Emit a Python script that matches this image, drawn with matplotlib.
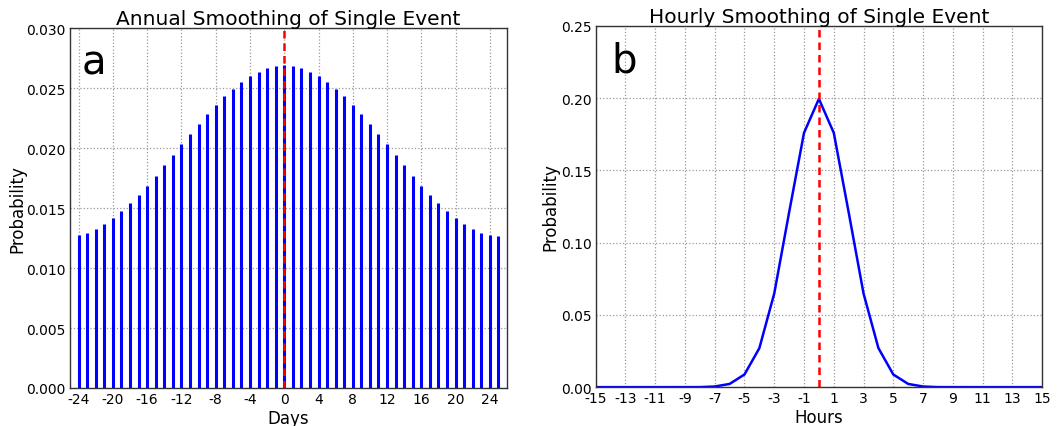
import numpy as np
import matplotlib.pyplot as plt

plt.rcParams['axes.unicode_minus'] = False

# panel a: daily smoothing weights
days = list(range(-24, 26))
day_prob = [0.01272, 0.01292, 0.01325, 0.01364, 0.01414, 0.01475, 0.01539, 0.01611,
            0.01686, 0.01769, 0.01856, 0.01944, 0.02031, 0.02117, 0.02203, 0.02286,
            0.02361, 0.02433, 0.02494, 0.02553, 0.02597, 0.02636, 0.02664, 0.02681,
            0.02690,
            0.02681, 0.02664, 0.02636, 0.02597, 0.02553, 0.02494, 0.02433, 0.02361,
            0.02286, 0.02203, 0.02117, 0.02031, 0.01944, 0.01856, 0.01769, 0.01686,
            0.01611, 0.01539, 0.01475, 0.01414, 0.01364, 0.01325, 0.01292, 0.01272,
            0.01264]

# panel b: hourly smoothing weights
hours = list(range(-15, 16))
hour_prob = [0.0, 0.0, 0.0, 0.0, 0.0, 0.0, 0.00001, 0.00003, 0.00044, 0.00222,
             0.00876, 0.0270, 0.0648, 0.1210, 0.1760, 0.1995, 0.1760, 0.1210,
             0.0648, 0.0270, 0.00876, 0.00222, 0.00044, 0.00003, 0.00001,
             0.0, 0.0, 0.0, 0.0, 0.0, 0.0]

fig = plt.figure(figsize=(10.58, 4.27), dpi=100)
ax1 = fig.add_axes([0.0662, 0.089, 0.413, 0.843])
ax2 = fig.add_axes([0.563, 0.091, 0.422, 0.846])

spine_col = '#333333'
grid_kw = dict(color='#999999', linestyle=':', linewidth=0.9)

# ------------------------------
# Panel a
# ------------------------------
ax1.vlines(days, 0, day_prob, colors='#0000ff', linewidth=2.2)
ax1.axvline(0, color='red', linestyle='--', linewidth=1.8, dashes=(3, 2))
ax1.set_xlim(-25, 26)
ax1.set_ylim(0, 0.03)
ax1.set_xticks(range(-24, 25, 4))
ax1.set_yticks(np.arange(0, 0.0301, 0.005))
ax1.yaxis.set_major_formatter(plt.FormatStrFormatter('%.3f'))
ax1.set_title("Annual Smoothing of Single Event", fontsize=14.5, pad=2)
ax1.set_xlabel("Days", fontsize=12, labelpad=2)
ax1.set_ylabel("Probability", fontsize=12, labelpad=0)
ax1.text(0.027, 0.96, "a", transform=ax1.transAxes, fontsize=29, va='top', ha='left')

# ------------------------------
# Panel b
# ------------------------------
ax2.plot(hours, hour_prob, color='#0000ff', linewidth=1.8)
ax2.axvline(0, color='red', linestyle='--', linewidth=1.8, dashes=(3, 2))
ax2.set_xlim(-15, 15)
ax2.set_ylim(0, 0.25)
ax2.set_xticks(range(-15, 16, 2))
ax2.set_yticks(np.arange(0, 0.251, 0.05))
ax2.yaxis.set_major_formatter(plt.FormatStrFormatter('%.2f'))
ax2.set_title("Hourly Smoothing of Single Event", fontsize=14.5, pad=2)
ax2.set_xlabel("Hours", fontsize=12, labelpad=2)
ax2.set_ylabel("Probability", fontsize=12, labelpad=1)
ax2.text(0.035, 0.96, "b", transform=ax2.transAxes, fontsize=29, va='top', ha='left')

for ax in (ax1, ax2):
    ax.grid(True, **grid_kw)
    ax.set_axisbelow(True)
    ax.tick_params(direction='in', labelsize=10, length=0, pad=3)
    for s in ax.spines.values():
        s.set_color(spine_col)
        s.set_linewidth(1.0)

fig.savefig("out.png", dpi=100)
